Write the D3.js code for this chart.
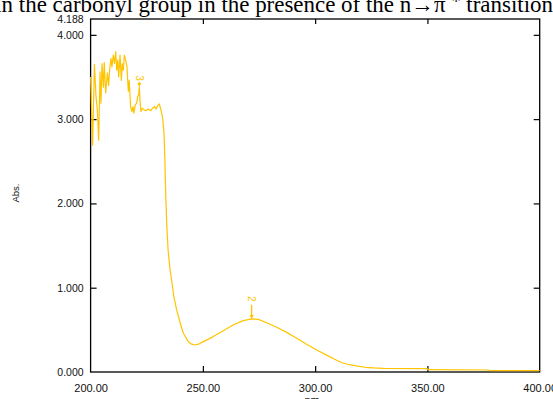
<!DOCTYPE html>
<html>
<head>
<meta charset="utf-8">
<script src="https://cdn.jsdelivr.net/npm/d3@7"></script>
<style>
  html, body { margin: 0; padding: 0; background: #fff; overflow: hidden; }
  svg { display: block; }
</style>
</head>
<body>
<svg id="chart" width="553" height="399"></svg>
<script>
// ---- data ----
const titleText = "in the carbonyl group in the presence of the n\u2192\u03c0 ";
const titleSup = "*";
const titleTail = " transition";
const xLabel = "nm";
const yLabel = "Abs.";

const wavelengths = [
  200.0, 200.9, 201.7, 202.4, 203.0, 203.6, 204.2, 204.6, 205.1, 205.7,
  206.1, 206.7, 207.5, 208.0, 208.6, 209.1, 209.5, 210.1, 210.6, 211.2,
  211.6, 212.1, 212.5, 213.1, 213.7, 214.1, 214.6, 215.0, 215.6, 216.2,
  216.8, 217.2, 217.8, 218.4, 218.9, 219.3, 219.9, 220.5, 221.0, 221.4,
  221.7, 222.0, 222.4, 223.0, 223.8, 224.7, 225.7, 226.8, 227.6, 228.5,
  229.1, 229.9, 230.6, 231.4, 232.1, 232.7, 233.1, 233.4, 233.9, 234.5,
  235.4, 236.3, 237.1, 238.3, 239.8, 241.3, 243.5, 245.0, 246.5, 248.0,
  250.2, 252.5, 254.6, 259.1, 263.6, 268.0, 271.7, 274.7, 278.4, 282.9,
  287.3, 291.8, 296.2, 300.7, 305.1, 309.6, 312.0, 314.0, 317.7, 322.2,
  326.0, 330.3, 349.7, 350.4, 377.1, 377.9, 400.0
];
const absorbance = [
  3.50, 2.69, 3.65, 3.27, 3.11, 2.75, 3.56, 3.19, 3.66, 3.38,
  3.67, 3.31, 3.55, 3.40, 3.62, 3.72, 3.62, 3.76, 3.66, 3.80,
  3.58, 3.70, 3.50, 3.76, 3.46, 3.66, 3.58, 3.76, 3.70, 3.62,
  3.33, 3.46, 3.15, 3.09, 3.15, 3.07, 3.17, 3.19, 3.27, 3.29,
  3.38, 3.23, 3.09, 3.13, 3.11, 3.10, 3.12, 3.10, 3.13, 3.15,
  3.12, 3.16, 3.18, 3.10, 3.01, 2.83, 2.51, 2.16, 1.76, 1.45,
  1.21, 1.05, 0.89, 0.74, 0.59, 0.46, 0.36, 0.33, 0.32, 0.33,
  0.36, 0.39, 0.42, 0.49, 0.56, 0.61, 0.63, 0.625, 0.585, 0.53,
  0.47, 0.40, 0.33, 0.26, 0.20, 0.14, 0.11, 0.095, 0.075, 0.056,
  0.048, 0.044, 0.040, 0.028, 0.024, 0.016, 0.016
];

const peakWavelengths = [221.7, 271.7];
const peakValues = [3.38, 0.63];
const peakLabels = ["3", "2"];

const xTickValues = [200, 250, 300, 350, 400];
const xTickLabels = ["200.00", "250.00", "300.00", "350.00", "400.00"];
const xInnerTicks = [250, 300, 350];
const yTickValues = [0, 1, 2, 3, 4, 4.188];
const yTickLabels = ["0.000", "1.000", "2.000", "3.000", "4.000", "4.188"];
const yInnerTicks = [1, 2, 3, 4];

// ---- layout / style ----
const plot = { left: 90.6, right: 539.7, top: 19, bottom: 372 };
const lineColor = "#ffc400";
const markLen = [5, 14];     // marker line length (px) per peak label
const labelGap = [9, 20];    // label centre distance above peak (px)

const svg = d3.select("#chart");
const x = d3.scaleLinear().domain([200, 400]).range([plot.left, plot.right]);
const y = d3.scaleLinear().domain([0, 4.188]).range([plot.bottom, plot.top]);

// title (cropped at the left, as in the reference)
const fs = 19;
const title = svg.append("text")
  .attr("font-family", "'Liberation Serif', 'Times New Roman', serif")
  .attr("font-size", fs)
  .attr("fill", "#000")
  .attr("y", 12);
title.append("tspan").text(titleText);
title.append("tspan").attr("font-size", fs * 0.8).attr("dy", -4).text(titleSup);
title.append("tspan").attr("dy", 4).text(titleTail);
(function fitTitle() {
  const w = title.node().getComputedTextLength();
  const k = 558 / w;
  title.attr("font-size", fs * k);
  title.select("tspan:nth-child(2)").attr("font-size", fs * k * 0.8);
  const w2 = title.node().getComputedTextLength();
  title.attr("x", 553 - w2);
})();

const sansFont = "'Liberation Sans', Arial, sans-serif";

// plot frame
svg.append("rect")
  .attr("x", plot.left).attr("y", plot.top)
  .attr("width", plot.right - plot.left).attr("height", plot.bottom - plot.top)
  .attr("fill", "none").attr("stroke", "#000").attr("stroke-width", 1.3);

// y labels (left)
const gyL = svg.append("g").attr("transform", `translate(${plot.left},0)`)
  .call(d3.axisLeft(y).tickValues(yTickValues)
    .tickFormat((d, i) => yTickLabels[i]).tickSize(0).tickPadding(7));
gyL.select(".domain").remove();
gyL.selectAll("text").attr("font-family", sansFont).attr("font-size", 10.5).attr("fill", "#111");

// y inner ticks left & right
const gyT = svg.append("g").attr("transform", `translate(${plot.left},0)`)
  .call(d3.axisLeft(y).tickValues(yInnerTicks).tickSize(-6).tickFormat(""));
gyT.select(".domain").remove();
const gyR = svg.append("g").attr("transform", `translate(${plot.right},0)`)
  .call(d3.axisRight(y).tickValues(yInnerTicks).tickSize(-6).tickFormat(""));
gyR.select(".domain").remove();

// x labels (bottom)
const gxL = svg.append("g").attr("transform", `translate(0,${plot.bottom})`)
  .call(d3.axisBottom(x).tickValues(xTickValues)
    .tickFormat((d, i) => xTickLabels[i]).tickSize(0).tickPadding(12));
gxL.select(".domain").remove();
gxL.selectAll("text").attr("font-family", sansFont).attr("font-size", 11).attr("fill", "#111");

// x inner ticks bottom & top
const gxB = svg.append("g").attr("transform", `translate(0,${plot.bottom})`)
  .call(d3.axisBottom(x).tickValues(xInnerTicks).tickSize(-6).tickFormat(""));
gxB.select(".domain").remove();
const gxT = svg.append("g").attr("transform", `translate(0,${plot.top})`)
  .call(d3.axisTop(x).tickValues(xInnerTicks).tickSize(-5).tickFormat(""));
gxT.select(".domain").remove();
svg.selectAll(".tick line").attr("stroke", "#000").attr("stroke-width", 1.2);

// axis titles
svg.append("text")
  .attr("x", (plot.left + plot.right) / 2 - 3).attr("y", 404)
  .attr("text-anchor", "middle")
  .attr("font-family", sansFont).attr("font-size", 11).attr("fill", "#111")
  .text(xLabel);

svg.append("text")
  .attr("transform", `translate(19,193) rotate(-90)`)
  .attr("text-anchor", "middle")
  .attr("font-family", sansFont).attr("font-size", 9.5).attr("fill", "#111")
  .text(yLabel);

// spectrum line
const pts = wavelengths.map((w, i) => [w, absorbance[i]]);
svg.append("path")
  .datum(pts)
  .attr("fill", "none")
  .attr("stroke", lineColor)
  .attr("stroke-width", 1.2)
  .attr("stroke-linejoin", "round")
  .attr("d", d3.line().x(d => x(d[0])).y(d => y(d[1])));

// peak markers
peakWavelengths.forEach((w, i) => {
  const px = x(w), py = y(peakValues[i]);
  svg.append("line")
    .attr("x1", px).attr("x2", px)
    .attr("y1", py - markLen[i]).attr("y2", py - 1)
    .attr("stroke", lineColor).attr("stroke-width", 1.3);
  svg.append("path")
    .attr("d", `M${px - 2},${py - 4} L${px + 2},${py - 4} L${px},${py} Z`)
    .attr("fill", lineColor);
  svg.append("text")
    .attr("transform", `translate(${px},${py - labelGap[i]}) rotate(90)`)
    .attr("text-anchor", "middle")
    .attr("dominant-baseline", "central")
    .attr("font-family", sansFont).attr("font-size", 10)
    .attr("fill", lineColor)
    .text(peakLabels[i]);
});
</script>
</body>
</html>
